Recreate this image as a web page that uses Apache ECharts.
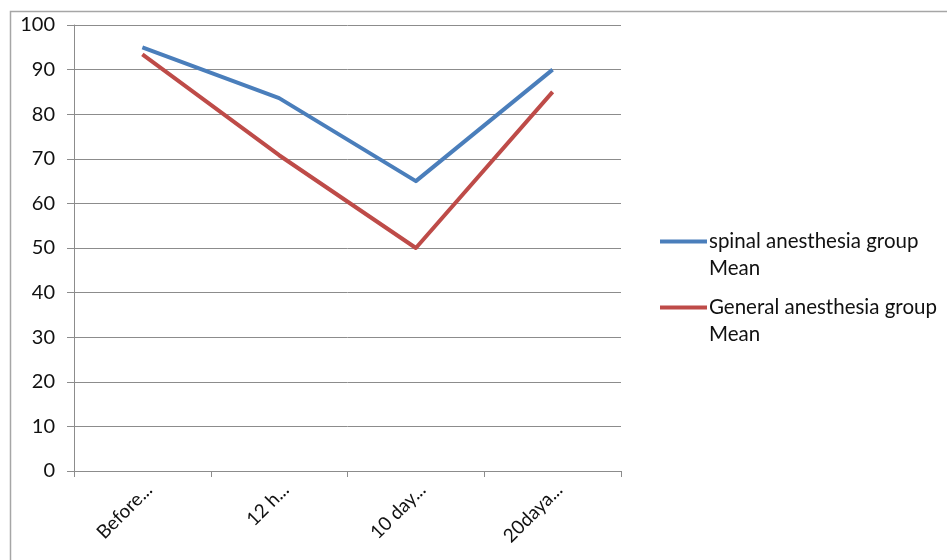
<!DOCTYPE html>
<html>
<head>
<meta charset="utf-8">
<script src="https://cdn.jsdelivr.net/npm/echarts@6/dist/echarts.min.js"></script>
<style>
  html, body { margin: 0; padding: 0; background: #fff; }
  #chart { width: 947px; height: 560px; }
</style>
</head>
<body>
<div id="chart"></div>
<script>
// Time points on the category axis
const categories = ['Before...', '12 h...', '10 day...', '20daya...'];
// Mean scores per group
const spinalMean = [95, 83.6, 65, 90];
const generalMean = [93.4, 70.8, 50, 85];
const spinalName = 'spinal anesthesia group\nMean';
const generalName = 'General anesthesia group\nMean';
// Value axis range
const yMin = 0, yMax = 100, yStep = 10;

const FONT = 'Lato, "Open Sans", sans-serif';
const AXIS_GREY = '#8c8c8c';
const BLUE = '#4a7ebb';
const RED = '#be4b48';

const chart = echarts.init(document.getElementById('chart'), null, { renderer: 'canvas' });

// One legend box per series; a leading blank line keeps the first text
// line level with the swatch while the second line hangs below it.
function legendBox(name, top) {
  return {
    show: true,
    data: [{ name: name, icon: 'rect' }],
    orient: 'vertical',
    left: 660,
    top: top,
    padding: 0,
    itemWidth: 47,
    itemHeight: 4,
    itemGap: 0,
    selectedMode: false,
    formatter: n => '\n' + n,
    textStyle: {
      fontFamily: FONT,
      fontSize: 20.5,
      color: '#111',
      lineHeight: 27,
      padding: [0, 0, 0, -3]
    }
  };
}

chart.setOption({
  animation: false,
  backgroundColor: '#fff',
  graphic: [{
    type: 'rect',
    shape: { x: 10.5, y: 11.5, width: 1000, height: 600 },
    style: { fill: 'none', stroke: '#a6a6a6', lineWidth: 1.5 },
    silent: true
  }],
  grid: { left: 74, right: 326, top: 25, bottom: 89, containLabel: false },
  legend: [legendBox(spinalName, 201), legendBox(generalName, 267)],
  xAxis: {
    type: 'category',
    data: categories,
    boundaryGap: true,
    axisLine: { show: true, lineStyle: { color: AXIS_GREY, width: 1 } },
    axisTick: { show: true, length: 6, alignWithLabel: false, lineStyle: { color: AXIS_GREY } },
    axisLabel: {
      rotate: 45,
      margin: 9,
      verticalAlign: 'top',
      fontFamily: FONT,
      fontSize: 19,
      color: '#111'
    },
    splitLine: { show: false }
  },
  yAxis: {
    type: 'value',
    min: yMin,
    max: yMax,
    interval: yStep,
    axisLine: { show: true, lineStyle: { color: AXIS_GREY, width: 1 } },
    axisTick: { show: true, length: 7, lineStyle: { color: AXIS_GREY } },
    axisLabel: {
      margin: 19,
      fontFamily: FONT,
      fontSize: 20,
      color: '#111'
    },
    splitLine: { show: true, lineStyle: { color: AXIS_GREY, width: 1 } }
  },
  series: [
    {
      name: spinalName,
      type: 'line',
      data: spinalMean,
      showSymbol: false,
      symbol: 'none',
      color: BLUE,
      lineStyle: { width: 4, color: BLUE, join: 'round' }
    },
    {
      name: generalName,
      type: 'line',
      data: generalMean,
      showSymbol: false,
      symbol: 'none',
      color: RED,
      lineStyle: { width: 4, color: RED, join: 'round' }
    }
  ]
});
</script>
</body>
</html>
